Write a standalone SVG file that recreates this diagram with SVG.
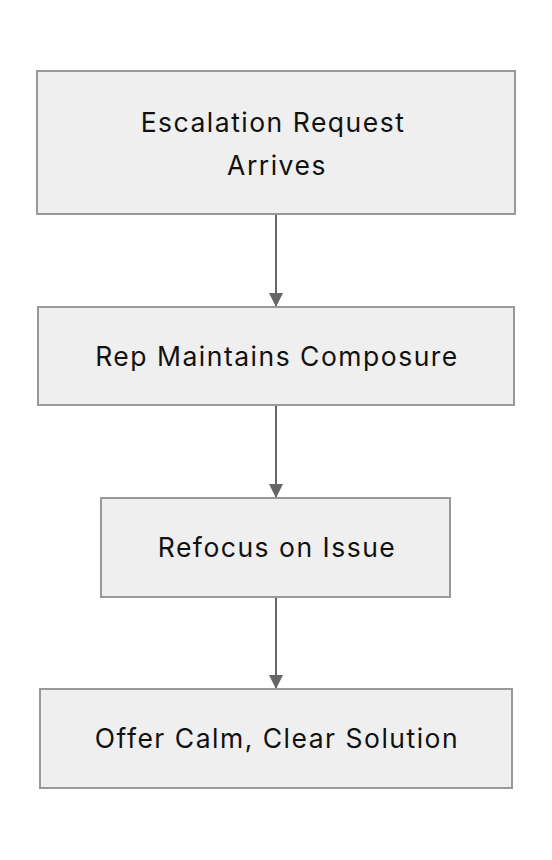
<svg xmlns="http://www.w3.org/2000/svg" width="552" height="860" viewBox="0 0 552 860">
<style>
.node rect{fill:#efefef;stroke:#999999;stroke-width:2}
.node text{font-family:Inter,"Noto Sans",sans-serif;font-size:26.5px;letter-spacing:1.5px;fill:#111111;text-anchor:middle}
.edge{stroke:#666666;stroke-width:2;fill:none;marker-end:url(#arr)}
</style>
<defs>
<marker id="arr" markerUnits="userSpaceOnUse" markerWidth="14" markerHeight="14" refX="14" refY="7" orient="auto" viewBox="0 0 14 14">
<path d="M0,0 L14,7 L0,14 Z" fill="#666666"/>
</marker>
</defs>
<rect width="552" height="860" fill="#ffffff"/>
<g id="edges">
<line class="edge" x1="276" y1="214" x2="276" y2="307"/>
<line class="edge" x1="276" y1="405" x2="276" y2="498"/>
<line class="edge" x1="276" y1="597" x2="276" y2="689"/>
</g>
<g id="n1" class="node">
<rect x="37" y="71" width="478" height="143"/>
<text x="273" y="131.5">Escalation Request</text>
<text x="277" y="174.5">Arrives</text>
</g>
<g id="n2" class="node">
<rect x="38" y="307" width="476" height="98"/>
<text x="277" y="366">Rep Maintains Composure</text>
</g>
<g id="n3" class="node">
<rect x="101" y="498" width="349" height="99"/>
<text x="277" y="557">Refocus on Issue</text>
</g>
<g id="n4" class="node">
<rect x="40" y="689" width="472" height="99"/>
<text x="277" y="748">Offer Calm, Clear Solution</text>
</g>
</svg>
